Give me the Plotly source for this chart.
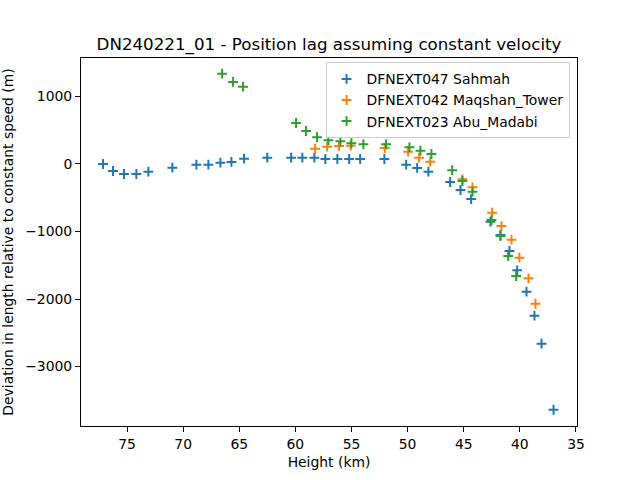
import plotly.graph_objects as go

# Sahmah (blue)
sah_h = [77.14, 76.25, 75.27, 74.17, 73.10, 70.96, 68.82, 67.75, 66.68, 65.70, 64.57, 62.50,
         60.38, 59.38, 58.31, 57.33, 56.26, 55.21, 54.23, 52.07, 50.13, 49.15, 48.15, 46.21,
         45.29, 44.34, 42.62, 41.73, 40.93, 40.24, 39.41, 38.70, 38.07, 37.0]
sah_v = [0, -104, -148, -148, -114, -55, -10, -10, 19, 30, 79, 93,
         93, 93, 93, 74, 74, 74, 74, 74, -10, -59, -114, -267,
         -385, -519, -855, -1052, -1289, -1575, -1892, -2247, -2662, -3640]

# Maqshan_Tower (orange)
maq_h = [58.24, 57.17, 56.11, 55.07, 52.04, 49.96, 48.98, 47.99, 45.12, 44.22, 42.47, 41.64,
         40.75, 40.04, 39.23, 38.61]
maq_v = [227, 256, 267, 271, 237, 182, 93, 34, -227, -345, -721, -919,
         -1121, -1388, -1693, -2070]

# Abu_Madabi (green)
abu_h = [66.53, 65.55, 64.66, 59.94, 59.05, 58.07, 57.06, 55.99, 55.01, 53.94, 51.92, 49.84,
         48.86, 47.88, 46.03, 45.12, 44.22, 42.53, 41.73, 41.04, 40.33]
abu_v = [1338, 1215, 1145, 607, 489, 396, 351, 336, 307, 292, 292, 247,
         197, 148, -93, -252, -410, -830, -1067, -1363, -1659]

names = ["DFNEXT047 Sahmah", "DFNEXT042 Maqshan_Tower", "DFNEXT023 Abu_Madabi"]
colors = ["#1f77b4", "#ff7f0e", "#2ca02c"]
x_ticks = [75, 70, 65, 60, 55, 50, 45, 40, 35]
y_ticks = [1000, 0, -1000, -2000, -3000]

fig = go.Figure()
for h, v, n, c in zip([sah_h, maq_h, abu_h], [sah_v, maq_v, abu_v], names, colors):
    fig.add_trace(go.Scatter(
        x=h, y=v, mode="markers", name=n,
        marker=dict(symbol="cross-thin", size=7, line=dict(color=c, width=2), color=c),
    ))

font = "DejaVu Sans"
fig.update_layout(
    width=640, height=480,
    margin=dict(l=81, r=63, t=58, b=54),
    paper_bgcolor="white", plot_bgcolor="white",
    font=dict(family=font, size=14, color="black"),
    title=dict(text="DN240221_01 - Position lag assuming constant velocity",
               x=0.5, xref="paper", xanchor="center",
               y=1 - 44 / 480, yref="container", yanchor="middle",
               font=dict(size=16.7, family=font, color="black")),
    legend=dict(x=0.985, y=0.988, xanchor="right", yanchor="top",
                bgcolor="rgba(255,255,255,0.8)", bordercolor="#cccccc", borderwidth=1,
                font=dict(size=13.9, family=font), tracegroupgap=0,
                itemwidth=30),
    showlegend=True,
)
fig.update_xaxes(
    range=[79.1, 34.91], tickvals=x_ticks, ticktext=[str(t) for t in x_ticks],
    showgrid=False, zeroline=False, showline=True, linecolor="black", linewidth=1,
    mirror=True, ticks="outside", ticklen=5, tickcolor="black", automargin=False,
    title=dict(text="Height (km)", standoff=6, font=dict(size=13.9)),
    tickfont=dict(size=13.9),
)
fig.update_yaxes(
    range=[-3881, 1570], tickvals=y_ticks,
    showgrid=False, zeroline=False, showline=True, linecolor="black", linewidth=1,
    mirror=True, ticks="outside", ticklen=5, tickcolor="black", automargin=False,
    title=dict(text="Deviation in length relative to constant speed (m)", standoff=9, font=dict(size=13.9)),
    tickfont=dict(size=13.9),
)
fig.write_html("out.html")
